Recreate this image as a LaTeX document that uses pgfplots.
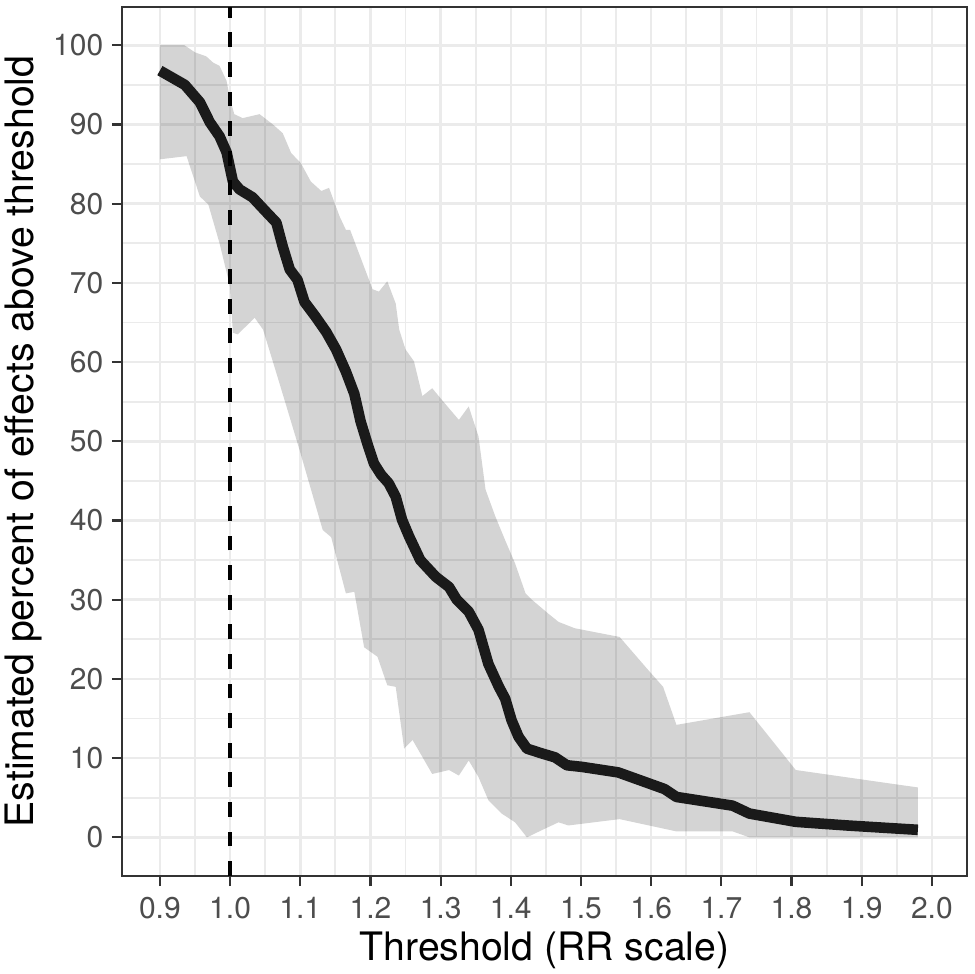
\documentclass[border=0pt]{standalone}
\usepackage{fontspec}
\setmainfont{TeX Gyre Heros}
\usepackage{pgfplots}
\pgfplotsset{compat=1.18}
\definecolor{gridc}{RGB}{235,235,235}
\definecolor{grey20}{RGB}{51,51,51}
\definecolor{grey30}{RGB}{77,77,77}
\definecolor{linec}{RGB}{26,26,26}
\begin{document}
\begin{tikzpicture}
\begin{axis}[name=ax,
  scale only axis, width=422.5bp, height=434.5bp,
  xmin=0.846, xmax=2.050, ymin=-4.88, ymax=104.83,
  xtick={0.9,1.0,1.1,1.2,1.3,1.4,1.5,1.6,1.7,1.8,1.9,2.0},
  xticklabels={0.9,1.0,1.1,1.2,1.3,1.4,1.5,1.6,1.7,1.8,1.9,2.0},
  ytick={0,10,20,30,40,50,60,70,80,90,100},
  yticklabels={0,10,20,30,40,50,60,70,80,90,100},
  minor x tick num=1, minor y tick num=1,
  minor tick length=0pt,
  major tick length=5bp,
  tick align=outside, xtick pos=bottom, ytick pos=left,
  major tick style={grey20, line width=1.1bp},
  axis line style={grey20, line width=1bp},
  grid=both,
  major grid style={gridc, line width=1.3bp},
  minor grid style={gridc, line width=0.9bp},
  ticklabel style={font=\fontsize{15bp}{17bp}\selectfont, text=grey30, inner sep=0pt},
  xticklabel style={anchor=north, yshift=-5.3bp},
  yticklabel style={anchor=east, xshift=-4.2bp},
  xlabel={Threshold (RR scale)},
  ylabel={Estimated percent of effects above threshold},
  label style={font=\fontsize{19.6bp}{23bp}\selectfont, text=black, inner sep=0pt},
  xlabel style={at={(axis description cs:0.5,-0.0967)}, anchor=base},
  ylabel style={at={(axis description cs:-0.1049,0.5)}, anchor=base, rotate=0},
]
% ribbon
\addplot[draw=none, fill=black, fill opacity=0.17] coordinates {
(0.9,100) (0.935,100) (0.950,99.1) (0.966,98.6) (0.976,97.8) (0.985,97.4) (0.995,95.5) (1.0,93.2)
(1.006,91.3) (1.018,90.8) (1.042,91.3) (1.061,90.0) (1.075,88.9) (1.087,86.4) (1.101,85.1)
(1.115,82.8) (1.130,81.6) (1.141,82.0) (1.156,78.4) (1.165,76.7) (1.171,76.7) (1.203,69.2)
(1.212,68.9) (1.224,70.2) (1.236,67.4) (1.241,64.1) (1.250,61.6) (1.262,60.1) (1.274,55.7)
(1.288,56.7) (1.302,55.2) (1.326,52.7) (1.340,54.4) (1.354,50.6) (1.364,43.9) (1.378,40.5)
(1.392,37.5) (1.406,34.6) (1.421,30.8) (1.430,30.0) (1.454,28.2) (1.468,27.2) (1.491,26.4)
(1.555,25.3) (1.596,21.1) (1.617,19.0) (1.636,14.2) (1.740,15.8) (1.806,8.5) (1.980,6.3)
(1.980,0) (1.740,0) (1.716,0.75) (1.636,0.75) (1.555,2.3) (1.482,1.5) (1.468,1.9) (1.444,0.9)
(1.423,0.0) (1.406,1.9) (1.387,3.0) (1.368,4.7) (1.354,7.6) (1.340,9.7) (1.326,7.8) (1.312,8.5)
(1.288,8.0) (1.260,12.3) (1.248,11.2) (1.236,19.0) (1.224,19.2) (1.210,22.8) (1.191,24.0)
(1.177,31.0) (1.165,30.8) (1.144,37.9) (1.132,38.8) (1.099,48.9) (1.080,54.5) (1.066,58.6)
(1.047,64.1) (1.035,65.6) (1.011,63.5) (1.004,63.7) (1.0,69.5) (0.985,75.0) (0.969,79.9)
(0.957,80.9) (0.938,86.0) (0.9,85.6)
} -- cycle;
% main line
\addplot[linec, line width=5.3bp, line join=round] coordinates {
(0.9,96.8) (0.9355,95.0) (0.957,92.8) (0.971,90.3) (0.985,88.5) (0.995,86.5) (1.004,82.8)
(1.0135,81.8) (1.032,80.8) (1.051,79.0) (1.066,77.6) (1.075,74.6) (1.085,71.7) (1.096,70.4)
(1.106,67.6) (1.122,65.7) (1.137,63.8) (1.151,61.6) (1.165,58.8) (1.177,56.0) (1.186,52.5)
(1.196,49.6) (1.205,47.2) (1.215,45.8) (1.226,44.7) (1.236,43.0) (1.245,40.1) (1.255,38.0)
(1.271,35.0) (1.293,32.9) (1.312,31.6) (1.323,30.0) (1.340,28.5) (1.354,26.2) (1.368,21.9)
(1.383,19.0) (1.392,17.5) (1.401,14.8) (1.411,12.7) (1.423,11.2) (1.444,10.6) (1.463,10.1)
(1.480,9.1) (1.501,8.9) (1.553,8.2) (1.619,6.1) (1.636,5.1) (1.716,4.0) (1.740,3.0)
(1.806,1.96) (1.879,1.5) (1.980,0.95)
};
% reference line
\addplot[black, line width=2bp, dash pattern=on 7.4bp off 7.4bp] coordinates {(1.0,-4.88) (1.0,104.83)};
\end{axis}
\pgfresetboundingbox
\path ([xshift=-61bp,yshift=-49bp]ax.south west) rectangle ([xshift=4bp,yshift=3.5bp]ax.north east);
\end{tikzpicture}
\end{document}
